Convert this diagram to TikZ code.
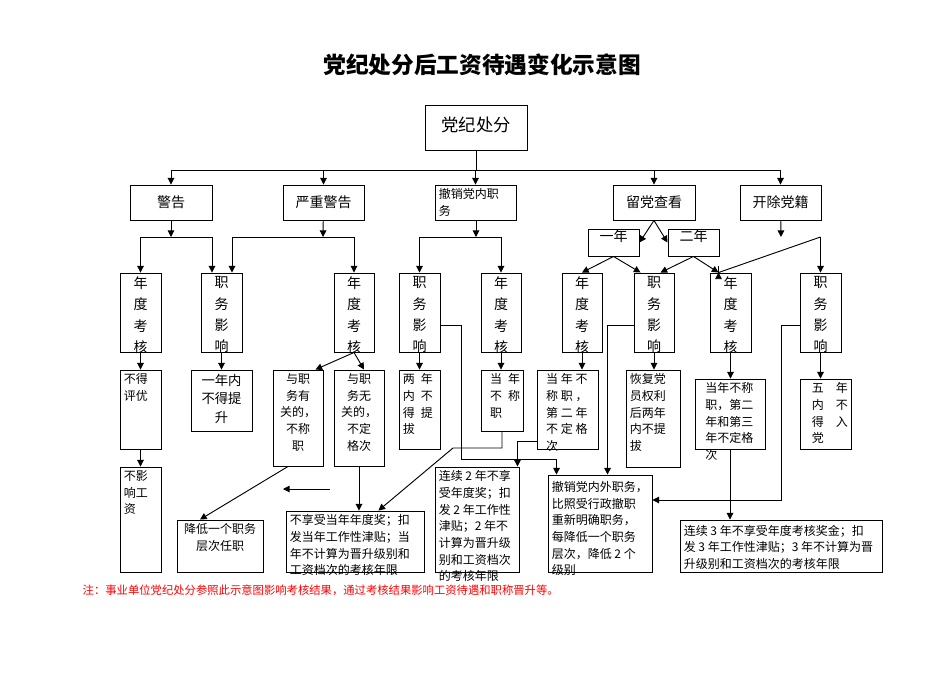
\documentclass[tikz,border=0pt]{standalone}
\usepackage{fontspec}
\setmainfont{Noto Sans CJK SC}
\usepackage{xcolor}
\usetikzlibrary{positioning,arrows.meta,calc,fit}

\begin{document}
\begin{tikzpicture}[
    x=0.75pt, y=-0.75pt,
    box/.style={draw, line width=0.7pt, inner sep=0pt},
    lc/.style={anchor=north, align=center, yshift=-3pt, inner sep=0pt},
    ll/.style={anchor=north west, align=left, xshift=3pt, yshift=-3pt, inner sep=0pt},
    col/.style={font=\fontsize{10.5}{16}\selectfont},
    sm/.style={font=\fontsize{9}{12.5}\selectfont},
    arr/.style={-{Triangle[width=5pt,length=5pt]}, line width=0.7pt},
    ln/.style={line width=0.7pt}
]
\useasboundingbox (0,0) rectangle (950,672);

% Title
\node[font=\fontsize{17}{20}\selectfont\bfseries] (title) at (482,65) {党纪处分后工资待遇变化示意图};

% Root
\node[box, fit={(425,105) (527,150)}, label={[lc, yshift=-6pt, font=\fontsize{13}{16}\selectfont]north:党纪处分}] (root) {};

% Level 1
\node[box, fit={(130,185) (212,220)}, label={[lc, yshift=-5pt, col]north:警告}] (w1) {};
\node[box, fit={(283,185) (364,220)}, label={[lc, yshift=-5pt, col]north:严重警告}] (w2) {};
\node[box, fit={(435,185) (516,220)}, label={[ll, sm]north west:{撤销党内职\\务}}] (w3) {};
\node[box, fit={(613,185) (695,220)}, label={[lc, yshift=-5pt, col]north:留党查看}] (w4) {};
\node[box, fit={(740,185) (821,220)}, label={[lc, yshift=-5pt, col]north:开除党籍}] (w5) {};
\node[box, fit={(588,229) (639,256)}, col] (y1) {一年};
\node[box, fit={(668,229) (719,256)}, col] (y2) {二年};

% Level 2
\node[box, fit={(120,273) (161,352)}, label={[lc, col]north:{年\\度\\考\\核}}] (a1) {};
\node[box, fit={(201,273) (242,352)}, label={[lc, col]north:{职\\务\\影\\响}}] (a2) {};
\node[box, fit={(334,273) (374,352)}, label={[lc, col]north:{年\\度\\考\\核}}] (a3) {};
\node[box, fit={(399,273) (440,352)}, label={[lc, col]north:{职\\务\\影\\响}}] (a4) {};
\node[box, fit={(481,273) (521,352)}, label={[lc, col]north:{年\\度\\考\\核}}] (a5) {};
\node[box, fit={(562,273) (602,352)}, label={[lc, col]north:{年\\度\\考\\核}}] (a6) {};
\node[box, fit={(634,273) (674,352)}, label={[lc, col]north:{职\\务\\影\\响}}] (a7) {};
\node[box, fit={(710,273) (751,352)}, label={[lc, col]north:{年\\度\\考\\核}}] (a8) {};
\node[box, fit={(800,273) (841,352)}, label={[lc, col]north:{职\\务\\影\\响}}] (a9) {};

% Level 3
\node[box, fit={(120,370) (161,449)}, label={[ll, sm]north west:{不得\\评优}}] (b1) {};
\node[box, fit={(191,370) (252,431)}, label={[lc, font=\fontsize{10}{14}\selectfont]north:{一年内\\不得提\\升}}] (b2) {};
\node[box, fit={(273,370) (323,466)}, label={[lc, sm]north:{与职\\务有\\关的，\\不称\\职}}] (b3) {};
\node[box, fit={(334,370) (384,466)}, label={[lc, sm]north:{与职\\务无\\关的，\\不定\\格次}}] (b4) {};
\node[box, fit={(399,370) (440,449)}, label={[ll, sm]north west:{两\enspace 年\\内\enspace 不\\得\enspace 提\\拔}}] (b5) {};
\node[box, fit={(481,370) (523,431)}, label={[ll, sm, xshift=4pt]north west:{当\enspace 年\\不\enspace 称\\职}}] (b6) {};
\node[box, fit={(537,370) (598,449)}, label={[ll, sm, xshift=4pt]north west:{当 年 不\\称 职 ，\\第 二 年\\不 定 格\\次}}] (b7) {};
\node[box, fit={(626,370) (680,467)}, label={[ll, sm]north west:{恢复党\\员权利\\后两年\\内不提\\拔}}] (b8) {};
\node[box, fit={(695,379) (765,449)}, label={[ll, sm, xshift=5pt]north west:{当年不称\\职，第二\\年和第三\\年不定格\\次}}] (b9) {};
\node[box, fit={(800,379) (851,449)}, label={[ll, sm, xshift=6pt]north west:{五\quad 年\\内\quad 不\\得\quad 入\\党}}] (b10) {};

% Level 4
\node[box, fit={(120,467) (161,572)}, label={[ll, sm]north west:{不影\\响工\\资}}] (c1) {};
\node[box, fit={(177,520) (263,572)}, label={[lc, sm]north:{降低一个职务\\层次任职}}] (c2) {};
\node[box, fit={(286,511) (424,572)}, label={[ll, sm]north west:{不享受当年年度奖；扣\\发当年工作性津贴；当\\年不计算为晋升级别和\\工资档次的考核年限}}] (c3) {};
\node[box, fit={(435,467) (519,572)}, label={[ll, sm]north west:{连续 2 年不享\\受年度奖；扣\\发 2 年工作性\\津贴；2 年不\\计算为晋升级\\别和工资档次\\的考核年限}}] (c4) {};
\node[box, fit={(548,475) (652,572)}, label={[ll, sm, yshift=-2pt]north west:{撤销党内外职务，\\比照受行政撤职\\重新明确职务，\\每降低一个职务\\层次，降低 2 个\\级别}}] (c5) {};
\node[box, fit={(680,520) (882,572)}, label={[ll, sm, yshift=-1pt]north west:{连续 3 年不享受年度考核奖金；扣\\发 3 年工作性津贴；3 年不计算为晋\\升级别和工资档次的考核年限}}] (c6) {};

% Note
\node[anchor=west, text=red, font=\fontsize{8.5}{10}\selectfont] (note) at (78,590) {注：事业单位党纪处分参照此示意图影响考核结果，通过考核结果影响工资待遇和职称晋升等。};

% Trunk
\coordinate (j0) at (476,170);
\draw[ln] (root) -- (j0);
\draw[ln] (j0 -| w1) -- (j0 -| w5);
\foreach \n in {w1,w2,w3,w4,w5}
    \draw[arr] (j0 -| \n) -- (\n);

% Warning branches
\coordinate (j1) at (171,237);
\coordinate (j2) at (323,237);
\coordinate (j3) at (476,237);
\coordinate (j5) at (781,237);
\draw[arr] (w1) -- (j1);
\draw[arr] (w2) -- (j2);
\draw[arr] (w3.south -| j3) -- (j3);
\draw[arr] (w5) -- (j5);
\draw[ln] (j1 -| a1) -- ($(j1 -| a2)+(-9.5,0)$);
\draw[arr] (j1 -| a1) -- (a1);
\draw[arr] ($(j1 -| a2)+(-9.5,0)$) -- ($(a2.north)+(-9.5,0)$);
\draw[ln] ($(j2 -| a2)+(10.5,0)$) -- (j2 -| a3);
\draw[arr] ($(j2 -| a2)+(10.5,0)$) -- ($(a2.north)+(10.5,0)$);
\draw[arr] (j2 -| a3) -- (a3);
\draw[ln] (j3 -| a4) -- (j3 -| a5);
\draw[arr] (j3 -| a4) -- (a4);
\draw[arr] (j3 -| a5) -- (a5);
\draw[ln] ($(a8.north)+(-12,0)$ |- j5) -- (j5 -| a9);
\draw[arr] ($(a8.north)+(-12,0)$ |- j5) -- ($(a8.north)+(-12,0)$);
\draw[arr] (j5 -| a9) -- (a9);

% Probation
\draw[arr] (w4.south) -- (y1.east);
\draw[arr] (w4.south) -- (y2.west);
\draw[arr] (y1.south) -- (a6.north);
\draw[arr] (y1.south) -- ($(a7.north west)+(7,0)$);
\draw[arr] (y2.south) -- ($(a7.north east)+(-14,0)$);
\draw[arr] (y2.south) -- ($(a8.north)+(-12,0)$);

% Level 2 to level 3
\foreach \s/\t in {a1/b1,a2/b2,a4/b5,a5/b6,a6/b7,a7/b8,a8/b9,a9/b10}
    \draw[arr] (\s.south) -- (\s.south |- \t.north);
\draw[arr] (a3.south) -- ($(b3.north east)+(-8,0)$);
\draw[arr] (a3.south) -- ($(b4.north)+(5,0)$);

% Level 3 to level 4
\draw[arr] (b1) -- (c1);
\draw[arr] ($(b3.south)+(-10,0)$) -- ($(c2.north)+(-20,0)$);
\coordinate (s1) at (330,489);
\coordinate (s2) at (283,489);
\draw[arr] (s1) -- (s2);
\draw[arr] (b4.south) -- (b4.south |- c3.north);
\coordinate (m0) at (453,448);
\draw[arr] (b6.south) |- (m0) -- ($(c3.north east)+(-46,0)$);
\draw[arr] ($(b7.south west)+(0,-8)$) -| ($(c4.north east)+(-2,0)$);
\coordinate (m1) at (461,459);
\draw[arr] ($(a4.east)+(0,13)$) -| (m1) -| ($(c5.north west)+(9,0)$);
\draw[arr] ($(a7.west)+(0,13)$) -| ($(c5.north west)+(60,0)$);
\coordinate (m2) at (781,500);
\draw[arr] ($(a9.west)+(0,13)$) -| (m2) -- (c5.east |- m2);
\draw[arr] (b9.south) -- (b9.south |- c6.north);

\end{tikzpicture}
\end{document}
